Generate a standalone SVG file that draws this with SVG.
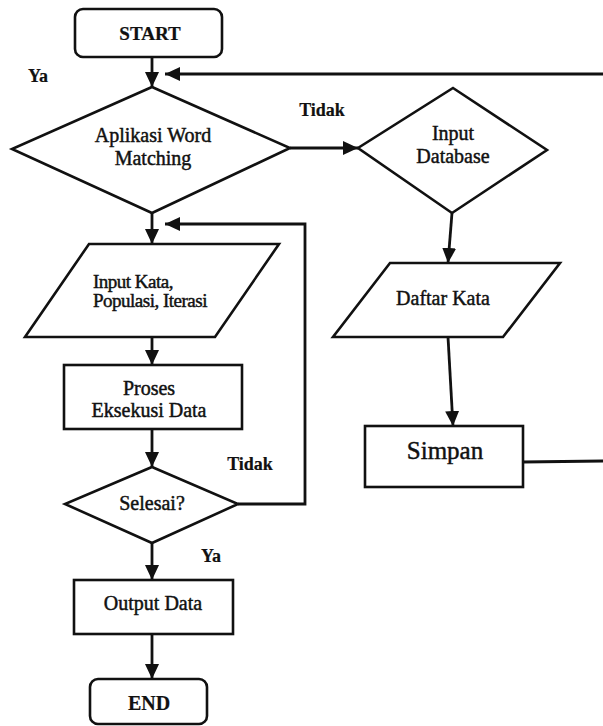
<svg xmlns="http://www.w3.org/2000/svg" width="603" height="726" viewBox="0 0 603 726">
<style>
.s{fill:#fff;stroke:#111;stroke-width:2.6;stroke-linejoin:miter}
.c{fill:none;stroke:#111;stroke-width:2.8}
.t{font-family:"Liberation Serif","Times New Roman","DejaVu Serif",serif;fill:#111;text-anchor:middle;font-size:20px;stroke:#111;stroke-width:0.45}
.b{font-weight:bold;stroke-width:0.2}
</style>
<defs>
<marker id="ah" markerUnits="userSpaceOnUse" markerWidth="16" markerHeight="16" viewBox="0 0 16 16" refX="15" refY="8" orient="auto">
<path d="M0,1 L15,8 L0,15 Z" fill="#111"/>
</marker>
</defs>
<rect width="603" height="726" fill="#fff"/>
<g id="connectors">
<line class="c" x1="152" y1="57" x2="152" y2="87" marker-end="url(#ah)"/>
<line class="c" x1="603" y1="74" x2="165" y2="74" marker-end="url(#ah)"/>
<line class="c" x1="290" y1="148" x2="358" y2="148" marker-end="url(#ah)"/>
<line class="c" x1="152" y1="213" x2="152" y2="244" marker-end="url(#ah)"/>
<polyline class="c" points="238,504 305,504 305,224 165,224" marker-end="url(#ah)"/>
<line class="c" x1="152" y1="337" x2="152" y2="365" marker-end="url(#ah)"/>
<line class="c" x1="152" y1="429" x2="152" y2="467" marker-end="url(#ah)"/>
<line class="c" x1="152" y1="543" x2="152" y2="580" marker-end="url(#ah)"/>
<line class="c" x1="152" y1="634" x2="152" y2="679" marker-end="url(#ah)"/>
<line class="c" x1="452" y1="213" x2="448" y2="263" marker-end="url(#ah)"/>
<line class="c" x1="448" y1="337" x2="453" y2="426" marker-end="url(#ah)"/>
<line class="c" x1="523" y1="462" x2="603" y2="461"/>
<text class="t b" x="38" y="82" style="font-size:18px">Ya</text>
<text class="t b" x="322" y="116" style="font-size:18px">Tidak</text>
<text class="t b" x="250" y="470" style="font-size:18px">Tidak</text>
<text class="t b" x="211" y="562" style="font-size:18px">Ya</text>
</g>
<g id="start">
<rect class="s" x="75" y="9" width="147" height="48" rx="8"/>
<text class="t b" x="150" y="40" style="font-size:19px">START</text>
</g>
<g id="aplikasi">
<polygon class="s" points="152,87 290,148 152,213 12,149"/>
<text class="t" x="153" y="142">Aplikasi Word</text>
<text class="t" x="153" y="165">Matching</text>
</g>
<g id="input-database">
<polygon class="s" points="453,88 547,150 452,213 358,148"/>
<text class="t" x="453" y="140">Input</text>
<text class="t" x="453" y="163">Database</text>
</g>
<g id="input-kata">
<polygon class="s" points="89,244 279,244 215,337 25,337"/>
<text class="t" x="93" y="288" style="text-anchor:start;font-size:19px;letter-spacing:-0.5px">Input Kata,</text>
<text class="t" x="93" y="307" style="text-anchor:start;font-size:19px;letter-spacing:-0.5px">Populasi, Iterasi</text>
</g>
<g id="daftar-kata">
<polygon class="s" points="390,263 560,263 503,337 333,337"/>
<text class="t" x="443" y="305">Daftar Kata</text>
</g>
<g id="proses">
<rect class="s" x="64" y="365" width="178" height="64"/>
<text class="t" x="149" y="395">Proses</text>
<text class="t" x="149" y="417">Eksekusi Data</text>
</g>
<g id="simpan">
<rect class="s" x="365" y="426" width="158" height="61"/>
<text class="t" x="445" y="459" style="font-size:25px">Simpan</text>
</g>
<g id="selesai">
<polygon class="s" points="152,467 238,504 152,543 65,504"/>
<text class="t" x="152" y="510">Selesai?</text>
</g>
<g id="output">
<rect class="s" x="74" y="580" width="159" height="54"/>
<text class="t" x="153" y="610">Output Data</text>
</g>
<g id="end">
<rect class="s" x="90" y="679" width="117" height="45" rx="8"/>
<text class="t b" x="149" y="710">END</text>
</g>
</svg>
